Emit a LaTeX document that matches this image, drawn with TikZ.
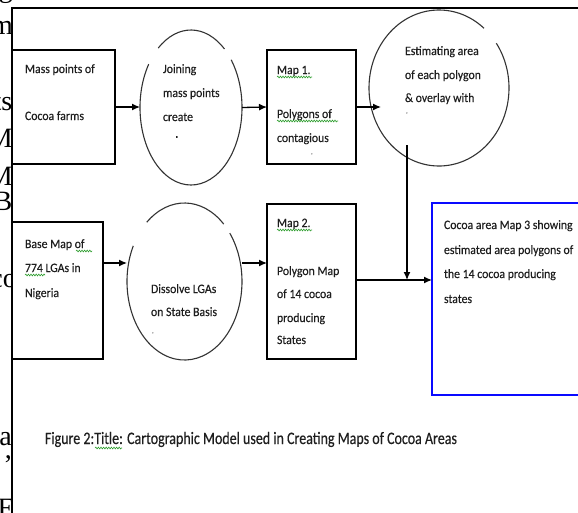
\documentclass[tikz,border=0pt]{standalone}
\usepackage{fontspec}
\setmainfont{Carlito}
\newfontfamily\boxfont[FakeStretch=0.92,FakeBold=0.3]{Carlito}
\newfontfamily\capfont[FakeStretch=0.8,FakeBold=0.3]{Carlito}
\newfontfamily\serifbg{Liberation Serif}
\usetikzlibrary{arrows.meta,shapes.geometric,decorations.pathmorphing}
\definecolor{txtc}{HTML}{1E1E1E}
\definecolor{spell}{HTML}{2E9E2E}
\definecolor{mapblue}{HTML}{0A0AFF}
\begin{document}
\begin{tikzpicture}[x=1pt,y=-1pt,
  box/.style={draw, line width=1.3pt, inner sep=0pt, outer sep=0pt, anchor=north west},
  oval/.style={ellipse, draw=none, inner sep=0pt, outer sep=0pt},
  ovalline/.style={line width=1.1pt, draw=black!80},
  tx/.style={anchor=base west, inner sep=0pt, outer sep=0pt, font=\boxfont\fontsize{12.8}{14}\selectfont, text=txtc},
  conn/.style={line width=1.3pt, -{Latex[length=8pt,width=7pt]}},
  wavy/.style={draw=spell, line width=0.6pt, decorate, decoration={snake, amplitude=0.9pt, segment length=2.6pt}},
  bgtext/.style={anchor=base east, inner sep=0pt, font=\serifbg\fontsize{28}{30}\selectfont}]
\useasboundingbox (0,0) rectangle (578,512);
\fill[white] (0,0) rectangle (578,512);

% background page fragments at the far left
\begin{scope}
  \clip (0,-5) rectangle (11.3,520);
  \node[bgtext] (fg1) at (13,-3) {g};
  \node[bgtext] (fg2) at (13,34) {m};
  \node[bgtext] (fg3) at (12.5,110) {ts};
  \node[bgtext] (fg4) at (13,147) {M};
  \node[bgtext] (fg5) at (13,185) {M};
  \node[bgtext] (fg6) at (12.5,210) {B};
  \node[bgtext] (fg7) at (17,287) {co};
  \node[bgtext] (fg8) at (12,445) {a};
  \node[bgtext] (fg9) at (12,458) {,};
  \node[bgtext] (fg10) at (15,517) {E};
\end{scope}

% frame
\draw[line width=1.8pt] (12,514) -- (12,8) -- (580,8);

% row 1
\node[box, minimum width=103pt, minimum height=114pt] (b1) at (12,50) {};
\node[oval, minimum width=102pt, minimum height=155pt] (e2) at (191,107.5) {};
\node[box, minimum width=89pt, minimum height=114pt] (b3) at (267,50) {};
\node[oval, minimum width=140pt, minimum height=156pt] (c4) at (439,88) {};

\draw[ovalline] (e2.center) ++(49:51pt and 77.5pt) arc[start angle=49, end angle=130, x radius=51pt, y radius=77.5pt];
\draw[ovalline] (e2.center) ++(146:51pt and 77.5pt) arc[start angle=146, end angle=398, x radius=51pt, y radius=77.5pt];
\draw[ovalline] (c4.center) ++(50:70pt and 78pt) arc[start angle=50, end angle=395, x radius=70pt, y radius=78pt];

% row 2
\node[box, minimum width=91pt, minimum height=137pt] (b5) at (12,222) {};
\node[oval, minimum width=115pt, minimum height=157pt] (e6) at (184.5,281.5) {};
\node[box, minimum width=89pt, minimum height=155pt] (b7) at (267,204) {};
\node[draw=mapblue, line width=2.6pt, inner sep=0pt, outer sep=0pt, anchor=north west, minimum width=190pt, minimum height=192pt] (b8) at (432,203) {};

\draw[ovalline] (e6.center) ++(47:57.5pt and 78.5pt) arc[start angle=47, end angle=131, x radius=57.5pt, y radius=78.5pt];
\draw[ovalline] (e6.center) ++(153:57.5pt and 78.5pt) arc[start angle=153, end angle=398, x radius=57.5pt, y radius=78.5pt];

% connectors
\draw[conn] (b1.east) -- (b1.east -| e2.west);
\draw[conn] (e2.east) -- (b3.west);
\draw[conn] (b3.east) -- ++(25,0);
\draw[conn] ([yshift=27.5pt]b5.east) -- ([yshift=27.5pt]b5.east -| e6.west);
\draw[conn] ([yshift=18.5pt]e6.east) -- ([yshift=18.5pt]e6.east -| b7.west);
\coordinate (j) at (407,280);
\coordinate (c4s) at (407,145);
\draw[conn] ([yshift=1.5pt]b7.east) -- ([yshift=1.5pt]b7.east -| b8.west);
\draw[conn] (c4s) -- (j);

% texts row 1
\node[tx] (t1a) at (25,73) {Mass points of};
\node[tx] (t1b) at (25,120) {Cocoa farms};
\node[tx] (t2a) at (163,73) {Joining};
\node[tx] (t2b) at (163,97) {mass points};
\node[tx] (t2c) at (163,121) {create};
\begin{scope}
  \clip (160,131) rectangle (215,137);
  \node[tx] (t2d) at (163,145) {polygons};
\end{scope}
\node[tx] (t3a) at (277,74) {Map 1.};
\node[tx] (t3b) at (277,118) {Polygons of};
\node[tx] (t3c) at (277,142) {contagious};
\node[tx, font=\fontsize{7}{8}\selectfont] (t3d) at (311,154) {,};
\draw[wavy] (277,77) -- (312,77);
\draw[wavy] (277,121) -- (338,121);
\node[tx] (t4a) at (405,55) {Estimating area};
\node[tx] (t4b) at (405,79) {of each polygon};
\node[tx] (t4c) at (405,102) {\& overlay with};
\node[tx, font=\fontsize{7}{8}\selectfont] (t4d) at (406,117) {'};

% texts row 2
\node[tx] (t5a) at (25,248) {Base Map of};
\node[tx] (t5b) at (25,272) {774 LGAs in};
\node[tx] (t5c) at (25,297) {Nigeria};
\draw[wavy] (76,251) -- (92,251);
\draw[wavy] (25,275) -- (45,275);
\node[tx] (t6a) at (151,293) {Dissolve LGAs};
\node[tx] (t6b) at (151,316) {on State Basis};
\node[tx, font=\fontsize{7}{8}\selectfont] (t6c) at (152,333) {,};
\node[tx] (t7a) at (277,227) {Map 2.};
\node[tx] (t7b) at (277,275) {Polygon Map};
\node[tx] (t7c) at (277,298) {of 14 cocoa};
\node[tx] (t7d) at (277,322) {producing};
\node[tx] (t7e) at (277,344) {States};
\draw[wavy] (277,230) -- (312,230);
\node[tx] (t8a) at (444,229) {Cocoa area Map 3 showing};
\node[tx] (t8b) at (444,254) {estimated area polygons of};
\node[tx] (t8c) at (444,278) {the 14 cocoa producing};
\node[tx] (t8d) at (444,303) {states};

% caption
\node[tx, font=\capfont\fontsize{17.5}{20}\selectfont] (cap) at (45,444) {Figure 2:Title: Cartographic Model used in Creating Maps of Cocoa Areas};
\draw[wavy] (95,448) -- (122,448);
\end{tikzpicture}
\end{document}
